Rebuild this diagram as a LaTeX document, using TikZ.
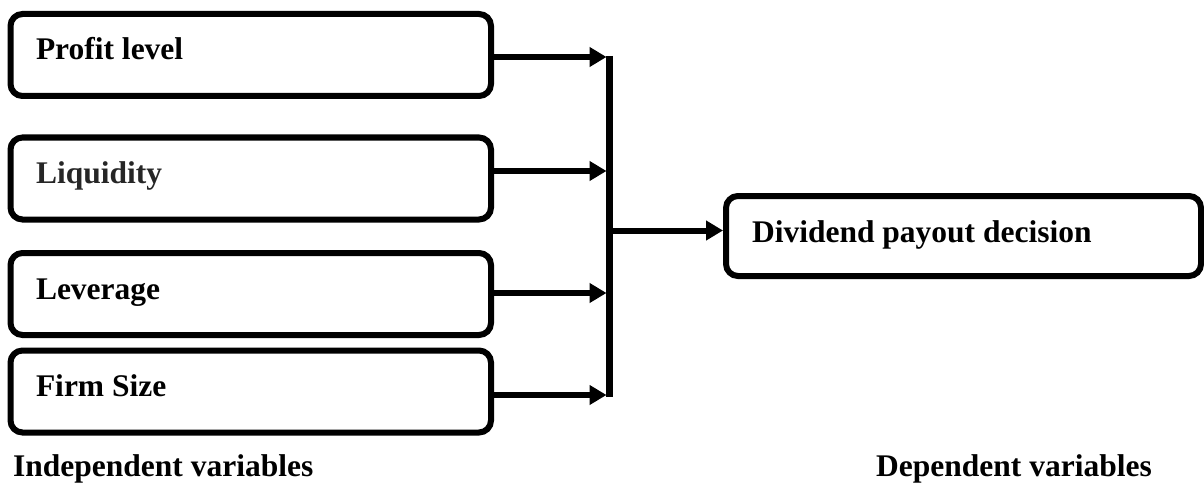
\documentclass[tikz,border=0pt]{standalone}
\usepackage{fontspec}
\setmainfont{Liberation Serif}
\usetikzlibrary{arrows.meta}

\begin{document}
\begin{tikzpicture}[x=1pt,y=-1pt,
  font=\fontsize{31.5}{38}\selectfont\bfseries,
  varbox/.style={draw=black, line width=6pt, rounded corners=12pt,
    align=flush left, inner ysep=0pt},
  leftbox/.style={varbox, text width=429.5pt, inner xsep=25.5pt,
    minimum height=82pt, text height=22pt, text depth=12pt},
  rightbox/.style={varbox, text width=423pt, inner xsep=26pt,
    minimum height=80pt, text height=22pt, text depth=10pt},
  feed/.style={line width=6pt, -{Triangle[length=17pt,width=19pt]}},
  bus/.style={line width=6.5pt},
  caption/.style={anchor=base west, inner sep=0pt}]
\useasboundingbox (0,0) rectangle (1204,484);

% independent variables
\node[leftbox] (profit)   at (250.75,55)    {Profit level};
\node[leftbox, text=black!85] (liquid) at (250.75,178.5) {Liquidity};
\node[leftbox] (leverage) at (250.75,294)   {Leverage};
\node[leftbox] (size)     at (250.75,391.5) {Firm Size};

% dependent variable
\node[rightbox] (payout) at (963.5,236) {Dividend payout decision};

% collecting bus
\coordinate (bustop) at (609.5,56);
\coordinate (busbot) at (609.5,397);
\coordinate (busmid) at (609.5,230.5);
\coordinate (t1) at (606.5,57);
\coordinate (t2) at (606.5,171);
\coordinate (t3) at (606.5,293);
\coordinate (t4) at (606.5,395);

\draw[feed] (profit.east |- t1)   -- (t1);
\draw[feed] (liquid.east |- t2)   -- (t2);
\draw[feed] (leverage.east |- t3) -- (t3);
\draw[feed] (size.east |- t4)     -- (t4);
\draw[bus] (bustop) -- (busbot);
\draw[feed] (busmid) -- (busmid -| payout.west);

% captions
\node[caption] (indep) at (13,476)  {Independent variables};
\node[caption] (dep)   at (876,476) {Dependent variables};
\end{tikzpicture}
\end{document}
